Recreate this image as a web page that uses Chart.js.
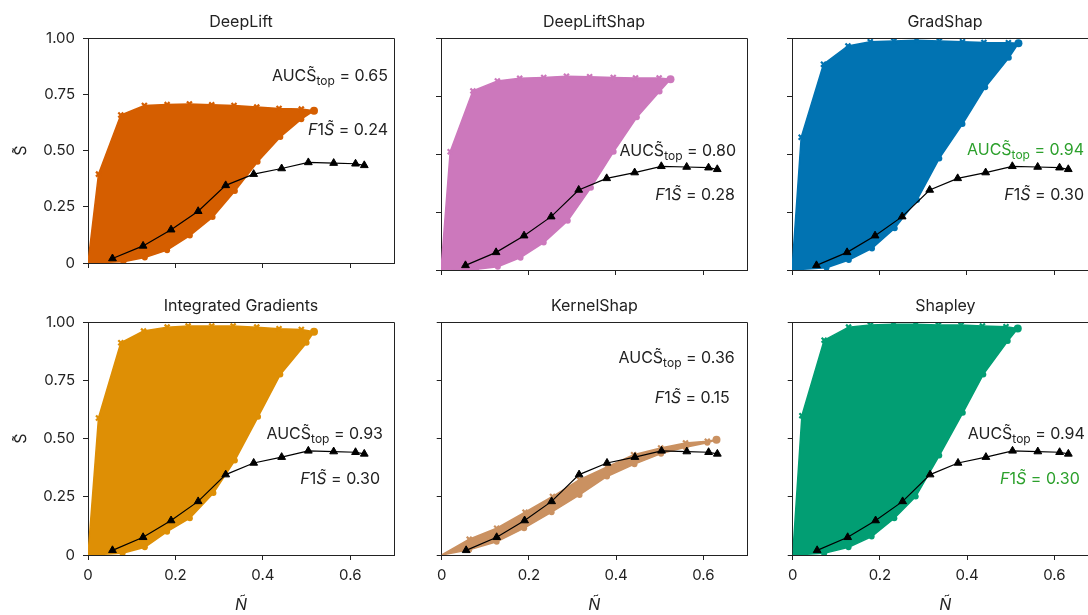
<!DOCTYPE html>
<html>
<head>
<meta charset="utf-8">
<script src="https://cdn.jsdelivr.net/npm/chart.js@4.4.1/dist/chart.umd.min.js"></script>
<style>
  html, body { margin: 0; padding: 0; background: #fff; overflow: hidden; width: 1088px; height: 615px; }
  canvas { position: absolute; }
</style>
</head>
<body>
<script>
// panel titles and annotation values
const methods = ['DeepLift', 'DeepLiftShap', 'GradShap', 'Integrated Gradients', 'KernelShap', 'Shapley'];
const aucTop = ['0.65', '0.80', '0.94', '0.93', '0.36', '0.94'];
const f1 = ['0.24', '0.28', '0.30', '0.30', '0.15', '0.30'];
const aucBest = [false, false, true, false, false, false];
const f1Best = [false, false, false, false, false, true];

const xTicks = [0, 0.2, 0.4, 0.6];
const xTickLabels = ['0', '0.2', '0.4', '0.6'];
const yTicks = [0, 0.25, 0.5, 0.75, 1];
const yTickLabels = ['0', '0.25', '0.50', '0.75', '1.00'];

// reference curve (triangles), same in every panel
const refN = [0.056, 0.126, 0.190, 0.252, 0.315, 0.379, 0.443, 0.504, 0.562, 0.612, 0.632];
const refS = [0.020, 0.076, 0.148, 0.230, 0.345, 0.395, 0.420, 0.447, 0.444, 0.441, 0.434];

// upper edge (x markers) and lower edge (dots) of each band
const deepLiftTopN = [0, 0.024, 0.075, 0.129, 0.181, 0.232, 0.283, 0.334, 0.386, 0.437, 0.488, 0.517];
const deepLiftTopS = [0, 0.395, 0.658, 0.700, 0.704, 0.707, 0.703, 0.700, 0.693, 0.687, 0.684, 0.677];
const deepLiftLowN = [0, 0.081, 0.130, 0.181, 0.233, 0.285, 0.336, 0.388, 0.440, 0.488, 0.517];
const deepLiftLowS = [0, 0.006, 0.024, 0.057, 0.122, 0.204, 0.320, 0.450, 0.560, 0.639, 0.677];

const dlShapTopN = [0, 0.021, 0.073, 0.129, 0.180, 0.235, 0.287, 0.340, 0.394, 0.445, 0.499, 0.525];
const dlShapTopS = [0, 0.510, 0.772, 0.815, 0.826, 0.830, 0.835, 0.833, 0.830, 0.828, 0.828, 0.822];
const dlShapLowN = [0, 0.080, 0.130, 0.182, 0.235, 0.290, 0.343, 0.395, 0.448, 0.500, 0.525];
const dlShapLowS = [0, 0.003, 0.014, 0.053, 0.118, 0.212, 0.355, 0.510, 0.658, 0.769, 0.822];

const gradShapTopN = [0, 0.021, 0.072, 0.128, 0.179, 0.233, 0.285, 0.337, 0.390, 0.439, 0.495, 0.518];
const gradShapTopS = [0, 0.572, 0.887, 0.966, 0.984, 0.987, 0.990, 0.987, 0.984, 0.981, 0.980, 0.977];
const gradShapLowN = [0, 0.079, 0.130, 0.183, 0.235, 0.286, 0.337, 0.390, 0.442, 0.496, 0.518];
const gradShapLowS = [0, 0.010, 0.043, 0.093, 0.180, 0.302, 0.481, 0.629, 0.788, 0.915, 0.977];

const intGradTopN = [0, 0.024, 0.075, 0.127, 0.181, 0.229, 0.283, 0.332, 0.386, 0.437, 0.488, 0.517];
const intGradTopS = [0, 0.588, 0.911, 0.961, 0.978, 0.983, 0.983, 0.983, 0.978, 0.971, 0.968, 0.958];
const intGradLowN = [0, 0.079, 0.130, 0.181, 0.233, 0.287, 0.336, 0.389, 0.440, 0.500, 0.517];
const intGradLowS = [0, 0.007, 0.033, 0.100, 0.158, 0.266, 0.406, 0.593, 0.775, 0.911, 0.958];

const kernelTopN = [0, 0.063, 0.126, 0.191, 0.254, 0.316, 0.379, 0.440, 0.502, 0.559, 0.609, 0.630];
const kernelTopS = [0, 0.068, 0.115, 0.184, 0.251, 0.323, 0.378, 0.430, 0.459, 0.481, 0.488, 0.495];
const kernelLowN = [0, 0.063, 0.126, 0.189, 0.252, 0.316, 0.379, 0.442, 0.503, 0.559, 0.609, 0.630];
const kernelLowS = [0, 0.022, 0.057, 0.115, 0.184, 0.258, 0.337, 0.390, 0.435, 0.462, 0.482, 0.495];

const shapleyTopN = [0, 0.021, 0.072, 0.128, 0.178, 0.231, 0.282, 0.334, 0.386, 0.435, 0.489, 0.516];
const shapleyTopS = [0, 0.598, 0.922, 0.978, 0.987, 0.990, 0.990, 0.987, 0.987, 0.983, 0.980, 0.972];
const shapleyLowN = [0, 0.072, 0.128, 0.181, 0.233, 0.282, 0.336, 0.390, 0.437, 0.493, 0.516];
const shapleyLowS = [0, 0.007, 0.033, 0.079, 0.158, 0.251, 0.427, 0.610, 0.775, 0.918, 0.972];

const bands = [
  [deepLiftTopN, deepLiftTopS, deepLiftLowN, deepLiftLowS],
  [dlShapTopN, dlShapTopS, dlShapLowN, dlShapLowS],
  [gradShapTopN, gradShapTopS, gradShapLowN, gradShapLowS],
  [intGradTopN, intGradTopS, intGradLowN, intGradLowS],
  [kernelTopN, kernelTopS, kernelLowN, kernelLowS],
  [shapleyTopN, shapleyTopS, shapleyLowN, shapleyLowS]
];

const colors = ['#D55E00', '#CC78BC', '#0173B2', '#DE8F05', '#CA9161', '#029E73'];
const green = '#2ca02c';
const ink = '#222';
const family = 'Inter, "DejaVu Sans", sans-serif';

// layout: plot-area left edges, top edges, annotation anchors (right x offset, baseline offset)
const colLeft = [88, 441, 792];
const rowTop = [38, 322];
const plotW = 306;
const plotH = [232, 233];
const aucPos = [[300, 43], [295, 118], [292, 117], [295, 117], [293, 41], [292, 117]];
const f1Pos = [[300, 97], [294, 162], [292, 162], [292, 162], [288, 81], [287, 162]];

const pts = (ns, ss) => ns.map((n, i) => ({ x: n, y: ss[i] }));

function drawRich(ctx, segs, right, y, color) {
  let w = 0;
  segs.forEach(s => {
    ctx.font = (s.it ? 'italic ' : '') + (s.sub ? 12 : 16) + 'px ' + family;
    s.w = ctx.measureText(s.t).width;
    w += s.w;
  });
  let x = right - w;
  ctx.fillStyle = color;
  ctx.textAlign = 'left';
  ctx.textBaseline = 'alphabetic';
  segs.forEach(s => {
    ctx.font = (s.it ? 'italic ' : '') + (s.sub ? 12 : 16) + 'px ' + family;
    ctx.fillText(s.t, x, y + (s.sub ? 4 : 0));
    x += s.w;
  });
}

const panelText = {
  id: 'panelText',
  afterDraw(chart) {
    const i = chart.options.plugins.panelText.idx;
    const ctx = chart.ctx, a = chart.chartArea;
    ctx.save();
    // top and right spines
    ctx.strokeStyle = ink;
    ctx.lineWidth = 1;
    ctx.beginPath();
    ctx.moveTo(Math.round(a.left), Math.round(a.top) + 0.5);
    ctx.lineTo(Math.round(a.right) + 0.5, Math.round(a.top) + 0.5);
    ctx.lineTo(Math.round(a.right) + 0.5, Math.round(a.bottom));
    ctx.stroke();
    // title
    ctx.fillStyle = ink;
    ctx.font = '16px ' + family;
    ctx.textAlign = 'center';
    ctx.textBaseline = 'alphabetic';
    ctx.fillText(methods[i], (a.left + a.right) / 2, a.top - 11);
    // annotations
    drawRich(ctx, [{ t: 'AUC' }, { t: 'S\u0303' }, { t: 'top', sub: true }, { t: ' = ' + aucTop[i] }],
      a.left + aucPos[i][0], a.top + aucPos[i][1], aucBest[i] ? green : ink);
    drawRich(ctx, [{ t: 'F', it: true }, { t: '1' }, { t: 'S\u0303', it: true }, { t: ' = ' + f1[i] }],
      a.left + f1Pos[i][0], a.top + f1Pos[i][1], f1Best[i] ? green : ink);
    ctx.restore();
  }
};

methods.forEach((m, i) => {
  const c = i % 3, r = Math.floor(i / 3);
  const yW = c === 0 ? 88 : 10;
  const xH = r === 1 ? 60 : 10;
  const cv = document.createElement('canvas');
  const w = yW + plotW + 10, h = 38 + plotH[r] + xH;
  cv.width = w; cv.height = h;
  cv.style.left = (colLeft[c] - yW) + 'px';
  cv.style.top = (rowTop[r] - 38) + 'px';
  cv.style.width = w + 'px';
  cv.style.height = h + 'px';
  document.body.appendChild(cv);

  const [tn, ts, ln, ls] = bands[i];
  const col = colors[i];
  const last = tn.length - 1;
  new Chart(cv, {
    type: 'line',
    data: {
      datasets: [
        {
          data: pts(refN, refS), borderColor: '#000', backgroundColor: '#000',
          borderWidth: 1.2, pointStyle: 'triangle', pointRadius: 4.5, pointBorderWidth: 1,
          fill: false, order: 0
        },
        {
          data: pts(tn, ts), borderColor: col, backgroundColor: col, borderWidth: 1.5,
          pointStyle: ctx => ctx.dataIndex === last ? 'circle' : 'crossRot',
          pointRadius: ctx => ctx.dataIndex === 0 ? 0 : (ctx.dataIndex === last ? 4 : 3.5),
          pointBorderWidth: ctx => ctx.dataIndex === last ? 0 : 2.2,
          fill: '+1', order: 1
        },
        {
          data: pts(ln, ls), borderColor: col, backgroundColor: col, borderWidth: 1.5,
          pointStyle: 'circle', pointRadius: ctx => ctx.dataIndex === 0 ? 0 : 3, pointBorderWidth: 0,
          fill: false, order: 2
        }
      ]
    },
    options: {
      responsive: false,
      animation: false,
      devicePixelRatio: 1,
      layout: { padding: { top: 38, right: 10, left: 0, bottom: 0 } },
      plugins: { legend: { display: false }, tooltip: { enabled: false }, panelText: { idx: i } },
      scales: {
        x: {
          type: 'linear', min: 0, max: 0.7,
          afterBuildTicks: s => { s.ticks = xTicks.map(v => ({ value: v })); },
          afterFit: s => { s.height = xH; },
          grid: { drawOnChartArea: false, drawTicks: true, tickLength: 5, color: ink },
          border: { color: ink },
          ticks: {
            display: r === 1, padding: 6, color: ink, font: { family, size: 15 },
            callback: v => xTickLabels[xTicks.findIndex(t => Math.abs(t - v) < 1e-6)]
          },
          title: { display: r === 1, text: 'N\u0303', color: ink, font: { family, size: 16, style: 'italic' }, padding: { top: 0, bottom: 0 } }
        },
        y: {
          type: 'linear', min: 0, max: 1,
          afterBuildTicks: s => { s.ticks = yTicks.map(v => ({ value: v })); },
          afterFit: s => { s.width = yW; },
          grid: { drawOnChartArea: false, drawTicks: true, tickLength: 5, color: ink },
          border: { color: ink },
          ticks: {
            display: c === 0, padding: 8, color: ink, font: { family, size: 15 },
            callback: v => yTickLabels[yTicks.findIndex(t => Math.abs(t - v) < 1e-6)]
          },
          title: { display: c === 0, text: 'S\u0303', color: ink, font: { family, size: 16 }, padding: { top: 12, bottom: 0 } }
        }
      }
    },
    plugins: [panelText]
  });
});
</script>
</body>
</html>
